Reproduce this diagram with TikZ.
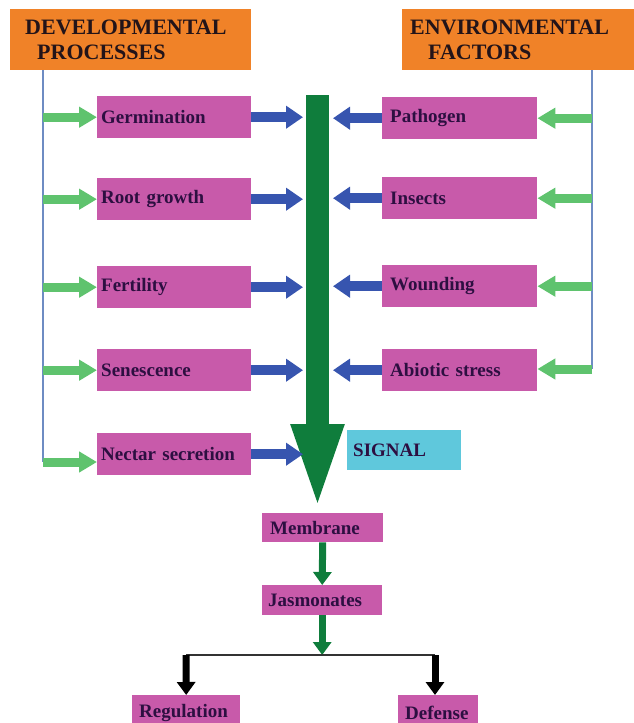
\documentclass[tikz,border=0pt]{standalone}
\usepackage{fontspec}
\setmainfont{Liberation Serif}
\usetikzlibrary{arrows.meta}
\definecolor{orangec}{RGB}{240,130,40}
\definecolor{pinkc}{RGB}{200,90,170}
\definecolor{textc}{RGB}{45,15,65}
\definecolor{headc}{RGB}{35,20,25}
\definecolor{bluec}{RGB}{55,85,175}
\definecolor{lgreen}{RGB}{95,195,110}
\definecolor{dgreen}{RGB}{15,125,60}
\definecolor{cyanc}{RGB}{95,200,220}
\definecolor{linec}{RGB}{110,140,195}

\begin{document}
\begin{tikzpicture}[x=1pt, y=-1pt,
	pbox/.style={fill=pinkc, text=textc, font=\fontsize{19}{22}\selectfont\bfseries, inner xsep=4pt, inner ysep=0pt, minimum height=42pt, anchor=north west, align=left, text width=#1},
	pbox/.default=146pt,
	hbox/.style={fill=orangec, text=headc, font=\fontsize{22}{25}\selectfont\bfseries, inner ysep=0pt, minimum height=61pt, anchor=north west, align=left},
	trunk/.style={draw=linec, line width=1.5pt},
	garrow/.style={draw=lgreen, line width=9pt, -{Triangle[width=20pt,length=18pt]}},
	barrow/.style={draw=bluec, line width=10pt, -{Triangle[width=22pt,length=17pt]}},
	bigarrow/.style={draw=dgreen, line width=23pt, -{Triangle[width=46pt,length=90pt]}},
	sarrow/.style={draw=dgreen, line width=7pt, -{Triangle[width=18pt,length=13pt]}},
	karrow/.style={draw=black, line width=7pt, -{Triangle[width=18pt,length=13pt]}}]
				\useasboundingbox (0,0) rectangle (634,723);
				\node[hbox, inner xsep=15pt, text width=211pt] (DP) at (10,9) {DEVELOPMENTAL\\\hspace*{12pt}PROCESSES};
				\node[hbox, inner xsep=8pt, text width=216pt] (EF) at (402,9) {ENVIRONMENTAL\\\hspace*{18pt}FACTORS};
				\node[pbox] (G) at (97,96) {Germination};
				\node[pbox] (RG) at (97,178) {Root growth};
				\node[pbox] (F) at (97,266) {Fertility};
				\node[pbox] (S) at (97,349) {Senescence};
				\node[pbox] (NS) at (97,433) {Nectar secretion};
				\node[pbox=139pt, inner xsep=8pt] (P) at (382,97) {Pathogen};
				\node[pbox=139pt, inner xsep=8pt] (I) at (382,177) {Insects};
				\node[pbox=139pt, inner xsep=8pt] (W) at (382,265) {Wounding};
				\node[pbox=139pt, inner xsep=8pt] (AS) at (382,349) {Abiotic stress};
				\node[pbox=102pt, fill=cyanc, inner xsep=6pt, minimum height=40pt] (SIG) at (347,430) {SIGNAL};
				\node[pbox=105pt, inner xsep=8pt, minimum height=29pt] (M) at (262,513) {Membrane};
				\node[pbox=108pt, inner xsep=6pt, minimum height=30pt] (J) at (262,585) {Jasmonates};
				\node[pbox=94pt, inner xsep=7pt, minimum height=36pt] (R) at (132,695) {Regulation};
				\node[pbox=66pt, inner xsep=7pt, minimum height=36pt] (D) at (398,695) {Defense};
				\coordinate (LB) at (43,462);
				\coordinate (RB) at (592,369);
				\coordinate (SL) at (303,0);
				\coordinate (SR) at (333,0);
				\coordinate (top) at (317.5,95);
				\coordinate (tip) at (317.5,514);
				\coordinate (split) at (318,655);
				\coordinate (hL) at (186,655);
				\coordinate (hR) at (435,655);
				\draw[trunk] (DP.south -| LB) -- (LB);
				\draw[trunk] (EF.south -| RB) -- (RB);
				\draw[garrow] (LB |- G.west) -- (G.west);
				\draw[garrow] (LB |- RG.west) -- (RG.west);
				\draw[garrow] (LB |- F.west) -- (F.west);
				\draw[garrow] (LB |- S.west) -- (S.west);
				\draw[garrow] (LB) -- (LB -| NS.west);
				\draw[garrow] (RB |- P.east) -- (P.east);
				\draw[garrow] (RB |- I.east) -- (I.east);
				\draw[garrow] (RB |- W.east) -- (W.east);
				\draw[garrow] (RB) -- (RB -| AS.east);
				\draw[bigarrow] (top) -- (tip);
				\draw[barrow] (G.east) -- (G.east -| SL);
				\draw[barrow] (RG.east) -- (RG.east -| SL);
				\draw[barrow] (F.east) -- (F.east -| SL);
				\draw[barrow] (S.east) -- (S.east -| SL);
				\draw[barrow] (NS.east) -- (NS.east -| SL);
				\draw[barrow] (P.west) -- (P.west -| SR);
				\draw[barrow] (I.west) -- (I.west -| SR);
				\draw[barrow] (W.west) -- (W.west -| SR);
				\draw[barrow] (AS.west) -- (AS.west -| SR);
				\draw[sarrow] (M.south) -- (J.north);
				\draw[sarrow] (J.south) -- (J.south |- split);
				\draw[black!80, line width=2pt] (hL) -- (hR);
				\draw[karrow] (hL) -- (R.north);
				\draw[karrow] (hR) -- (hR |- D.north);
			\end{tikzpicture}
\end{document}
